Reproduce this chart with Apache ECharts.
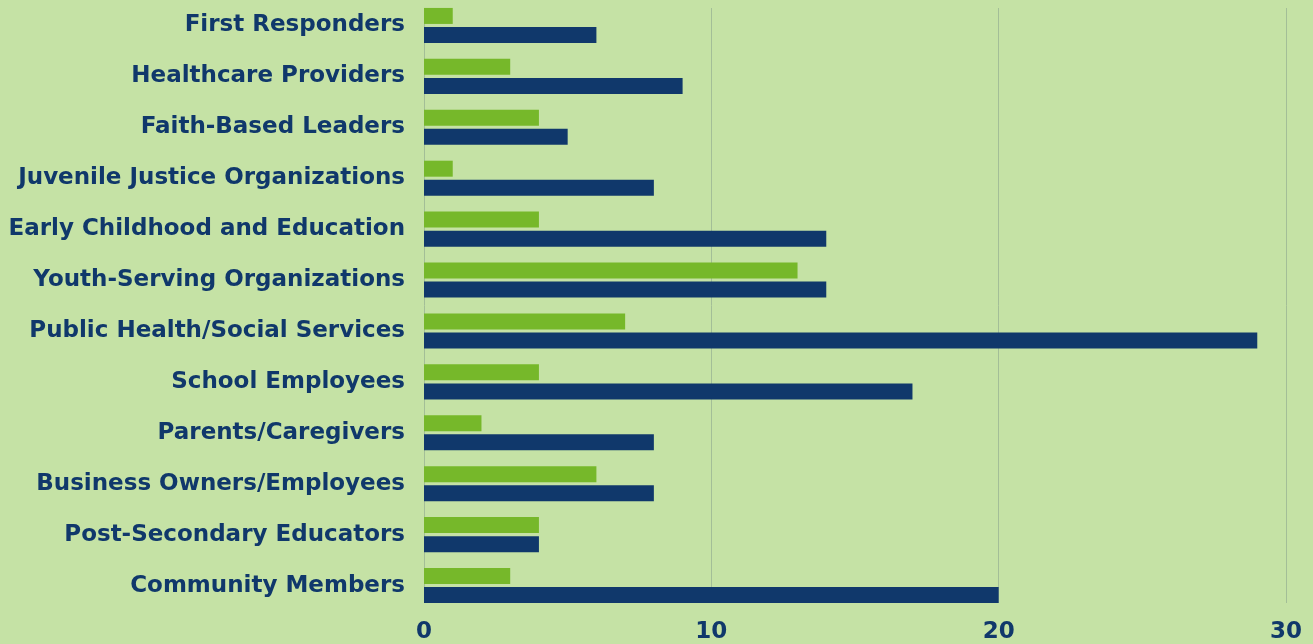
<!DOCTYPE html>
<html>
<head>
<meta charset="utf-8">
<script src="https://cdn.jsdelivr.net/npm/echarts@6/dist/echarts.min.js"></script>
<style>
  html, body { margin: 0; padding: 0; background: #c5e2a5; }
  #container { width: 1313px; height: 644px; }
</style>
</head>
<body>
<div id="container"></div>
<script>
var categories = [
  'First Responders',
  'Healthcare Providers',
  'Faith-Based Leaders',
  'Juvenile Justice Organizations',
  'Early Childhood and Education',
  'Youth-Serving Organizations',
  'Public Health/Social Services',
  'School Employees',
  'Parents/Caregivers',
  'Business Owners/Employees',
  'Post-Secondary Educators',
  'Community Members'
];
var greenValues = [1, 3, 4, 1, 4, 13, 7, 4, 2, 6, 4, 3];
var blueValues = [6, 9, 5, 8, 14, 14, 29, 17, 8, 8, 4, 20];

var labelFont = '"DejaVu Sans", sans-serif';
var navy = '#10386b';

var dom = document.getElementById('container');
var myChart = echarts.init(dom);

var option = {
  backgroundColor: '#c5e2a5',
  animation: false,
  grid: [
    // bars
    { left: 424, right: 27, top: 0, bottom: 28 },
    // grid lines only span the bars
    { left: 424, right: 27, top: 8, bottom: 41 }
  ],
  xAxis: [
    {
      gridIndex: 0,
      type: 'value',
      min: 0,
      max: 30,
      interval: 10,
      axisLine: { show: false },
      axisTick: { show: false },
      splitLine: { show: false },
      axisLabel: {
        margin: 10,
        color: navy,
        fontFamily: labelFont,
        fontWeight: 'bold',
        fontSize: 23
      }
    },
    {
      gridIndex: 1,
      type: 'value',
      min: 0,
      max: 30,
      interval: 10,
      axisLine: { show: false },
      axisTick: { show: false },
      axisLabel: { show: false },
      splitLine: { lineStyle: { color: '#a3be97', width: 1 } }
    }
  ],
  yAxis: [
    {
      gridIndex: 0,
      type: 'category',
      inverse: true,
      data: categories,
      axisLine: { show: false },
      axisTick: { show: false },
      axisLabel: {
        margin: 19,
        padding: [0, 0, 5, 0],
        color: navy,
        fontFamily: labelFont,
        fontWeight: 'bold',
        fontSize: 23
      }
    },
    {
      gridIndex: 1,
      type: 'category',
      data: categories,
      show: false
    }
  ],
  series: [
    {
      name: 'Green',
      type: 'bar',
      xAxisIndex: 0,
      yAxisIndex: 0,
      data: greenValues,
      barWidth: 16,
      barGap: '19%',
      itemStyle: { color: '#76b82a' },
      z: 3
    },
    {
      name: 'Blue',
      type: 'bar',
      xAxisIndex: 0,
      yAxisIndex: 0,
      data: blueValues,
      barWidth: 16,
      itemStyle: { color: '#10386b' },
      z: 3
    }
  ]
};

myChart.setOption(option);
</script>
</body>
</html>
